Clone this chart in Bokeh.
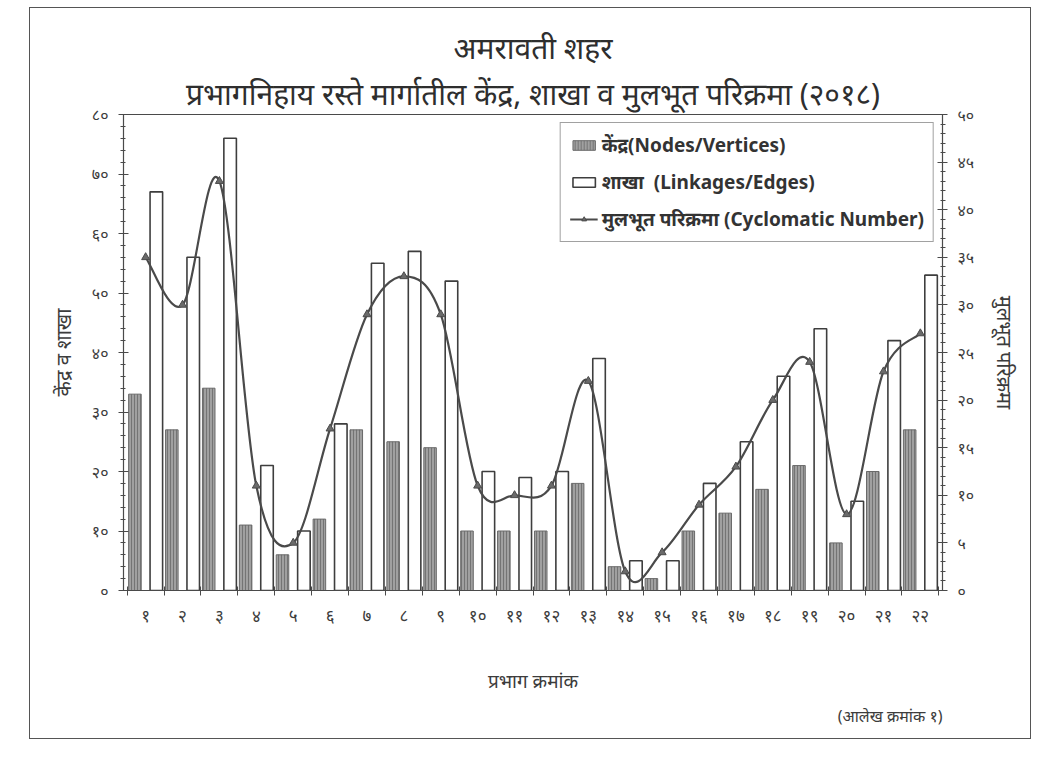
import numpy as np
from bokeh.plotting import figure
from bokeh.models import (Range1d, LinearAxis, FixedTicker, Legend, LegendItem,
                          Title, ColumnDataSource)
from bokeh.transform import dodge
from bokeh.embed import file_html
from bokeh.resources import INLINE

# ---------------- data ----------------
wards = list(range(1, 23))
ward_labels = ["१", "२", "३", "४", "५", "६", "७", "८", "९", "१०", "११",
               "१२", "१३", "१४", "१५", "१६", "१७", "१८", "१९", "२०", "२१", "२२"]
nodes = [33, 27, 34, 11, 6, 12, 27, 25, 24, 10, 10, 10, 18, 4, 2, 10, 13, 17, 21, 8, 20, 27]
edges = [67, 56, 76, 21, 10, 28, 55, 57, 52, 20, 19, 20, 39, 5, 5, 18, 25, 36, 44, 15, 42, 53]
cyclomatic = [35, 30, 43, 11, 5, 17, 29, 33, 29, 11, 10, 11, 22, 2, 4, 9, 13, 20, 24, 8, 23, 27]

left_ticks = [0, 10, 20, 30, 40, 50, 60, 70, 80]
left_tick_labels = ["०", "१०", "२०", "३०", "४०", "५०", "६०", "७०", "८०"]
right_ticks = [0, 5, 10, 15, 20, 25, 30, 35, 40, 45, 50]
right_tick_labels = ["०", "५", "१०", "१५", "२०", "२५", "३०", "३५", "४०", "४५", "५०"]

title_1 = "अमरावती शहर"
title_2 = "प्रभागनिहाय रस्ते मार्गातील केंद्र, शाखा व मुलभूत परिक्रमा (२०१८)"
y_left_label = "केंद्र व शाखा"
y_right_label = "मुलभूत परिक्रमा"
x_label = "प्रभाग क्रमांक"
note = "(आलेख क्रमांक १)"
legend_labels = ["केंद्र(Nodes/Vertices)", "शाखा  (Linkages/Edges)",
                 "मुलभूत परिक्रमा (Cyclomatic Number)"]

# ---------------- styling ----------------
DEV = "Noto Sans"
TXT = "#3c3c3c"
AX = "#4a4a4a"

p = figure(width=1002, height=732, output_backend="svg", toolbar_location=None,
           x_range=Range1d(0.4, 22.6), y_range=Range1d(0, 80),
           min_border_left=93, min_border_right=90, min_border_top=106,
           min_border_bottom=150, background_fill_color="white",
           border_fill_color="white", outline_line_color=AX, outline_line_width=1.2)
p.styles = {"margin-left": "29px", "margin-top": "7px", "border": "1px solid #555"}
p.grid.visible = False

p.extra_y_ranges = {"cyc": Range1d(0, 50)}

# bars
src = ColumnDataSource(dict(ward=wards, nodes=nodes, edges=edges))
r_nodes = p.vbar(x=dodge("ward", -0.29), top="nodes", width=0.34, source=src,
                 fill_color="#a0a0a0", line_color="#6a6a6a", line_width=1,
                 hatch_pattern="vertical_line", hatch_color="#747474",
                 hatch_scale=3, hatch_weight=1)
r_edges = p.vbar(x=dodge("ward", 0.29), top="edges", width=0.34, source=src,
                 fill_color="white", line_color="#3e3e3e", line_width=1.6)

# smooth line (Catmull-Rom -> cubic Bezier) through the data points
xs = np.array(wards, dtype=float)
ys = np.array(cyclomatic, dtype=float)
xp = np.concatenate([[xs[0]], xs, [xs[-1]]])
yp = np.concatenate([[ys[0]], ys, [ys[-1]]])
bz = ColumnDataSource(dict(
    x0=xs[:-1], y0=ys[:-1], x1=xs[1:], y1=ys[1:],
    cx0=xs[:-1] + (xp[2:-1] - xp[0:-3]) / 6.0,
    cy0=ys[:-1] + (yp[2:-1] - yp[0:-3]) / 6.0,
    cx1=xs[1:] - (xp[3:] - xp[1:-2]) / 6.0,
    cy1=ys[1:] - (yp[3:] - yp[1:-2]) / 6.0,
))
r_curve = p.bezier(x0="x0", y0="y0", x1="x1", y1="y1", cx0="cx0", cy0="cy0",
                   cx1="cx1", cy1="cy1", source=bz, y_range_name="cyc",
                   line_color="#4a4a4a", line_width=2.2)
r_pts = p.scatter(x=wards, y=cyclomatic, y_range_name="cyc", marker="triangle",
                  size=8, fill_color="#6a6a6a", line_color="#4a4a4a")

# axes
ax = p.xaxis[0]
ax.ticker = FixedTicker(ticks=wards, minor_ticks=[w + 0.5 for w in range(0, 23)])
ax.major_label_overrides = {w: l for w, l in zip(wards, ward_labels)}
ax.major_tick_in = 0
ax.major_tick_out = 0
ax.minor_tick_in = 4
ax.minor_tick_out = 5
ax.major_label_standoff = 8
ax.axis_label = x_label
ax.axis_label_standoff = 38
ax.major_label_text_font = DEV
ax.major_label_text_font_size = "17px"
ax.major_label_text_color = TXT
ax.axis_label_text_font = DEV
ax.axis_label_text_font_size = "19px"
ax.axis_label_text_font_style = "normal"
ax.axis_label_text_color = TXT
ax.axis_line_color = AX
ax.major_tick_line_color = AX
ax.minor_tick_line_color = AX

ay = p.yaxis[0]
ay.ticker = FixedTicker(ticks=left_ticks, minor_ticks=list(range(0, 81, 2)))
ay.major_label_overrides = {t: l for t, l in zip(left_ticks, left_tick_labels)}
ay.axis_label = y_left_label
ay.axis_label_standoff = 12

ar = LinearAxis(y_range_name="cyc", axis_label=y_right_label)
ar.ticker = FixedTicker(ticks=right_ticks, minor_ticks=list(range(0, 51, 1)))
ar.major_label_overrides = {t: l for t, l in zip(right_ticks, right_tick_labels)}
ar.axis_label_standoff = 14
p.add_layout(ar, "right")

for a in [ay, ar]:
    a.major_tick_in = 5
    a.major_tick_out = 5
    a.minor_tick_in = 2
    a.minor_tick_out = 3
    a.major_label_standoff = 10
    a.major_label_text_font = DEV
    a.major_label_text_font_size = "16px"
    a.major_label_text_color = TXT
    a.axis_label_text_font = DEV
    a.axis_label_text_font_size = "20px"
    a.axis_label_text_font_style = "normal"
    a.axis_label_text_color = TXT
    a.axis_line_color = AX
    a.major_tick_line_color = AX
    a.minor_tick_line_color = AX

# titles (the one added last sits nearest the plot)
p.title.text = title_1
p.title.align = "center"
p.title.text_font = DEV
p.title.text_font_size = "30px"
p.title.text_font_style = "normal"
p.title.text_color = "#2e2e2e"
p.title.standoff = 4
t2 = Title(text=title_2, align="center", text_font=DEV, text_font_size="30px",
           text_font_style="normal", text_color="#2e2e2e", standoff=2)
p.add_layout(t2, "above")

tn = Title(text=note, align="right", text_font=DEV, text_font_size="16px",
           text_font_style="normal", text_color=TXT, standoff=12)
p.add_layout(tn, "below")

# legend
legend = Legend(items=[
    LegendItem(label=legend_labels[0], renderers=[r_nodes]),
    LegendItem(label=legend_labels[1], renderers=[r_edges]),
    LegendItem(label=legend_labels[2], renderers=[r_curve, r_pts]),
], location="top_right")
legend.label_text_font = DEV
legend.label_text_font_size = "19px"
legend.label_text_font_style = "bold"
legend.label_text_color = "#333333"
legend.glyph_width = 28
legend.glyph_height = 12
legend.label_height = 22
legend.spacing = 11
legend.padding = 9
legend.margin = 8
legend.label_standoff = 4
legend.border_line_color = "#444444"
legend.border_line_width = 1.2
legend.background_fill_color = "white"
legend.background_fill_alpha = 1
p.add_layout(legend)

open("out.html", "w").write(file_html(p, INLINE))
